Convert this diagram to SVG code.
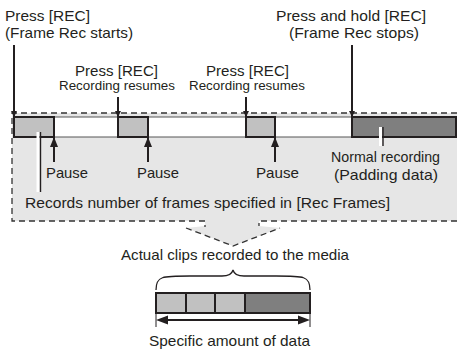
<svg xmlns="http://www.w3.org/2000/svg" width="457" height="349" viewBox="0 0 457 349">
<style>
text{font-family:"Liberation Sans",Arial,sans-serif;font-size:15px;fill:#231f20}
.c{text-anchor:middle}
.s{font-size:13px}
.dash{fill:none;stroke:#333;stroke-width:1.3;stroke-dasharray:6 4}
.box{stroke:#231f20;stroke-width:2}
.lt{fill:#c1c1c1}
.dk{fill:#7f7f7f}
.ar{stroke:#231f20;stroke-width:2;fill:none}
</style>
<defs>
<marker id="hd" viewBox="0 0 6 6" refX="6" refY="3" markerWidth="3" markerHeight="3" orient="auto" markerUnits="strokeWidth"><path d="M0,0L6,3L0,6z" fill="#231f20"/></marker>
<marker id="hu" viewBox="0 0 10 8" refX="10" refY="4" markerWidth="5" markerHeight="4.5" orient="auto" markerUnits="strokeWidth"><path d="M0,0L10,4L0,8z" fill="#231f20"/></marker>
</defs>
<g id="region">
<path d="M12,113H457V221H259V226L280,228L233,246L186,228L205,226V221H12Z" fill="#e6e6e6"/>
<path class="dash" d="M457,113H12V221H205V227"/>
<path class="dash" d="M457,221H259V226"/>
<path class="dash" d="M186,228L233,246L280,228"/>
</g>
<g id="strip">
<rect x="14" y="117" width="443" height="20" fill="#fff" stroke="#555" stroke-width="1"/>
</g>
<g id="seg1"><rect class="box lt" x="14" y="117" width="40" height="20"/></g>
<g id="seg2"><rect class="box lt" x="118" y="117" width="30" height="20"/></g>
<g id="seg3"><rect class="box lt" x="246" y="117" width="29" height="20"/></g>
<g id="seg4"><rect class="box dk" x="352" y="117" width="104" height="20"/></g>
<g id="connectors">
<line class="ar" x1="14" y1="45" x2="14" y2="117" marker-end="url(#hd)"/>
<line class="ar" x1="118" y1="97" x2="118" y2="117" marker-end="url(#hd)"/>
<line class="ar" x1="246" y1="97" x2="246" y2="117" marker-end="url(#hd)"/>
<line class="ar" x1="352" y1="45" x2="352" y2="117" marker-end="url(#hd)"/>
<line class="ar" x1="54" y1="162" x2="54" y2="137" marker-end="url(#hu)"/>
<line class="ar" x1="148" y1="162" x2="148" y2="137" marker-end="url(#hu)"/>
<line class="ar" x1="275" y1="162" x2="275" y2="137" marker-end="url(#hu)"/>
<line x1="38" y1="132" x2="38" y2="192" stroke="#fff" stroke-width="3"/>
<line x1="40.5" y1="132" x2="40.5" y2="192" stroke="#231f20" stroke-width="1.4"/>
<line x1="380.5" y1="127" x2="380.5" y2="146" stroke="#fff" stroke-width="3"/>
<line x1="383" y1="127" x2="383" y2="146" stroke="#231f20" stroke-width="1.4"/>
</g>
<g id="labels">
<text x="5" y="20.5" textLength="85" lengthAdjust="spacingAndGlyphs">Press [REC]</text>
<text x="5" y="37.5" textLength="128" lengthAdjust="spacingAndGlyphs">(Frame Rec starts)</text>
<text class="c" x="116.5" y="76" textLength="83" lengthAdjust="spacingAndGlyphs">Press [REC]</text>
<text class="c s" x="117" y="90" textLength="116" lengthAdjust="spacingAndGlyphs">Recording resumes</text>
<text class="c" x="247.5" y="76" textLength="83" lengthAdjust="spacingAndGlyphs">Press [REC]</text>
<text class="c s" x="247" y="90" textLength="116" lengthAdjust="spacingAndGlyphs">Recording resumes</text>
<text class="c" x="351" y="20.5" textLength="150" lengthAdjust="spacingAndGlyphs">Press and hold [REC]</text>
<text class="c" x="354" y="37.5" textLength="130" lengthAdjust="spacingAndGlyphs">(Frame Rec stops)</text>
<text class="c" x="67" y="178" textLength="42" lengthAdjust="spacingAndGlyphs">Pause</text>
<text class="c" x="158" y="178" textLength="42" lengthAdjust="spacingAndGlyphs">Pause</text>
<text class="c" x="277.5" y="178" textLength="43" lengthAdjust="spacingAndGlyphs">Pause</text>
<text class="c" x="385.5" y="162" textLength="109" lengthAdjust="spacingAndGlyphs">Normal recording</text>
<text class="c" x="386" y="180" textLength="104" lengthAdjust="spacingAndGlyphs">(Padding data)</text>
<text x="25" y="207.5" textLength="365" lengthAdjust="spacingAndGlyphs">Records number of frames specified in [Rec Frames]</text>
<text class="c" x="235" y="260" textLength="228" lengthAdjust="spacingAndGlyphs">Actual clips recorded to the media</text>
<text class="c" x="229.5" y="345.5" textLength="161" lengthAdjust="spacingAndGlyphs">Specific amount of data</text>
</g>
<g id="clip">
<path d="M156,290C156,276 162,276 190,276H222C229,276 232,274 233,270C234,274 237,276 244,276H276C304,276 310,276 310,290" fill="none" stroke="#231f20" stroke-width="1.3"/>
<rect class="lt" x="156" y="293" width="30" height="20"/>
<rect class="lt" x="186" y="293" width="29" height="20"/>
<rect class="lt" x="215" y="293" width="30" height="20"/>
<rect class="dk" x="245" y="293" width="65" height="20"/>
<path d="M156,293H310V313H156ZM186,293V313M215,293V313M245,293V313" fill="none" stroke="#231f20" stroke-width="2"/>
<path d="M156,313V327M310,313V327" stroke="#231f20" stroke-width="1"/>
<line x1="164" y1="320" x2="302" y2="320" stroke="#231f20" stroke-width="2"/>
<path d="M156,320L168,315.5V324.5Z M310,320L298,315.5V324.5Z" fill="#231f20"/>
</g>
</svg>
